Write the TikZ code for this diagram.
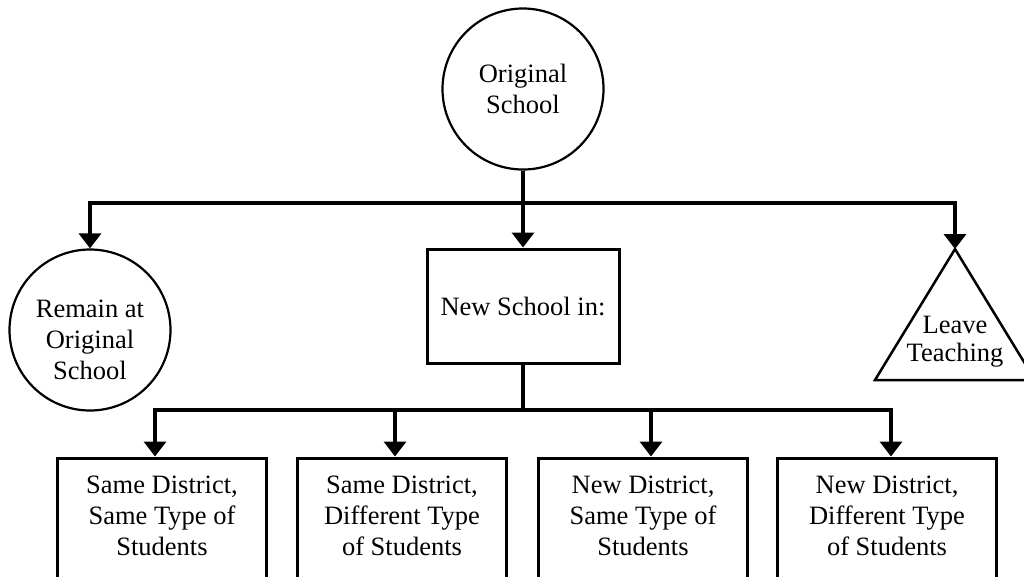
\documentclass[tikz,border=0pt]{standalone}
\usepackage{fontspec}
\setmainfont{Liberation Serif}
\usetikzlibrary{arrows.meta}
\begin{document}
\begin{tikzpicture}[x=1pt,y=-1pt,
  every node/.style={font=\fontsize{26.5}{31}\selectfont, align=center, text=black},
  circ/.style={circle, draw, line width=2.2pt, minimum size=161pt, inner sep=0pt},
  box/.style={rectangle, draw, line width=3pt, inner sep=0pt},
  conn/.style={line width=3.5pt, line join=miter},
  arr/.style={conn, -{Triangle[width=22pt,length=15pt]}},
  tri/.style={draw, line width=2.5pt, line join=miter}
]
\clip (0,0) rectangle (1024,576);
\fill[white] (0,0) rectangle (1024,576);
% nodes
\node[circ] (top) at (523,89) {Original\\School};
\node[circ] (rem) at (90,330) {};
\node (remt) at (90,340) {Remain at\\Original\\School};
\node[box, minimum width=192pt, minimum height=114pt] (new) at (523,306) {New School in:};
% triangle
\coordinate (lt) at (955,249);
\draw[tri] (lt) -- (875,380) -- (1035,380) -- cycle;
\node[font=\fontsize{26.5}{28}\selectfont] (ltt) at (955,342) {Leave\\Teaching};
% bottom boxes
\node[box, minimum width=209pt, minimum height=124pt] (b1) at (162,520) {};
\node[box, minimum width=209pt, minimum height=124pt] (b2) at (402,520) {};
\node[box, minimum width=209pt, minimum height=124pt] (b3) at (643,520) {};
\node[box, minimum width=219pt, minimum height=124pt] (b4) at (887,520) {};
\node (b1t) at (162,516) {Same District,\\Same Type of\\Students};
\node (b2t) at (402,516) {Same District,\\Different Type\\of Students};
\node (b3t) at (643,516) {New District,\\Same Type of\\Students};
\node (b4t) at (887,516) {New District,\\Different Type\\of Students};
% connectors level 1
\coordinate (j1) at (523,203);
\draw[conn] (top.south) -- (j1);
\draw[arr] (j1) -| (rem.north);
\draw[arr] (j1) -| (lt);
\draw[arr] (j1) -- (new.north);
% connectors level 2
\coordinate (j2) at (523,410);
\draw[conn] (new.south) -- (j2);
\draw[arr] (j2) -| ([xshift=-7pt]b1.north);
\draw[arr] (j2) -| ([xshift=-7pt]b2.north);
\draw[arr] (j2) -| ([xshift=8pt]b3.north);
\draw[arr] (j2) -| ([xshift=4pt]b4.north);
\end{tikzpicture}
\end{document}
